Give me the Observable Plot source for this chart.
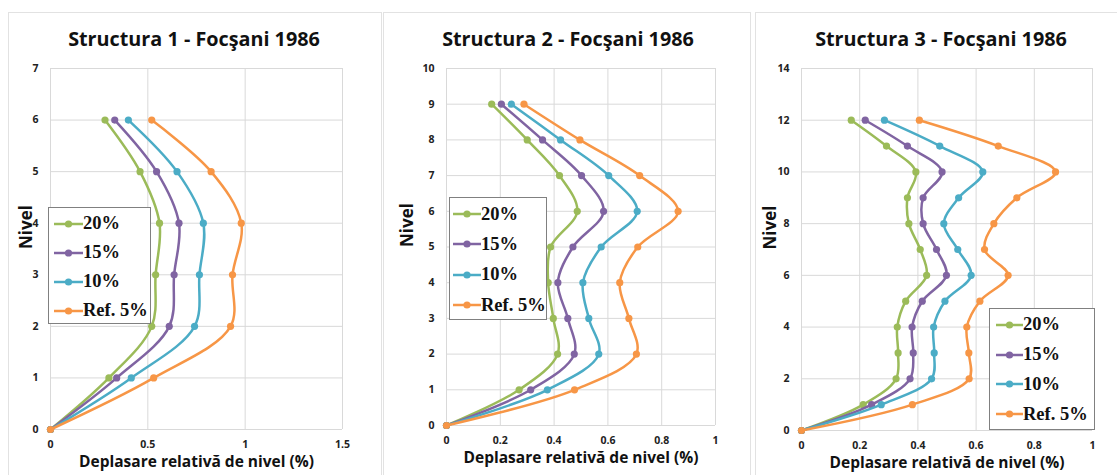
<!DOCTYPE html>
<html><head><meta charset="utf-8">
<script src="https://cdn.jsdelivr.net/npm/d3@7"></script>
<script src="https://cdn.jsdelivr.net/npm/@observablehq/plot@0.6"></script>
<style>
body{margin:0;background:#fff;width:1117px;height:475px;overflow:hidden;position:relative;font-family:"Open Sans",sans-serif;}
.panel{position:absolute;top:12px;height:480px;border:1px solid #e2e2e2;box-sizing:border-box;}
.plotbox{position:absolute;top:12px;}
.title{position:absolute;top:26px;font-weight:700;font-size:19.8px;line-height:26px;color:#111;white-space:nowrap;transform:translateX(-50%);}
.legend{position:absolute;border:1px solid #808080;background:#fff;font-family:"Liberation Serif","Times New Roman",serif;font-weight:700;font-size:18.5px;color:#111;box-sizing:border-box;}
.item{display:flex;align-items:center;white-space:nowrap;}
.item svg{flex:none;margin-right:0px;}
</style>
</head><body>
<script>
// ---- data ----
const seriesNames = ["20%", "15%", "10%", "Ref. 5%"];
const seriesColors = ["#9BBB59", "#8064A2", "#4BACC6", "#F79646"];

const titles = ["Structura 1 - Focşani 1986", "Structura 2 - Focşani 1986", "Structura 3 - Focşani 1986"];
const xLabel = "Deplasare relativă de nivel (%)";
const yLabel = "Nivel";

const levels1 = [0, 1, 2, 3, 4, 5, 6];
const s1_20  = [0, 0.30, 0.52, 0.54, 0.56, 0.46, 0.28];
const s1_15  = [0, 0.34, 0.61, 0.635, 0.66, 0.545, 0.33];
const s1_10  = [0, 0.415, 0.74, 0.765, 0.785, 0.65, 0.40];
const s1_ref = [0, 0.53, 0.925, 0.935, 0.98, 0.825, 0.52];
const xTicks1 = [0, 0.5, 1, 1.5];
const yTicks1 = [0, 1, 2, 3, 4, 5, 6, 7];

const levels2 = [0, 1, 2, 3, 4, 5, 6, 7, 8, 9];
const s2_20  = [0, 0.27, 0.413, 0.397, 0.378, 0.387, 0.486, 0.42, 0.30, 0.168];
const s2_15  = [0, 0.313, 0.475, 0.451, 0.414, 0.47, 0.584, 0.502, 0.357, 0.204];
const s2_10  = [0, 0.375, 0.566, 0.529, 0.507, 0.575, 0.709, 0.603, 0.424, 0.241];
const s2_ref = [0, 0.476, 0.706, 0.678, 0.644, 0.711, 0.861, 0.718, 0.496, 0.288];
const xTicks2 = [0, 0.2, 0.4, 0.6, 0.8, 1];
const yTicks2 = [0, 1, 2, 3, 4, 5, 6, 7, 8, 9, 10];

const levels3 = [0, 1, 2, 3, 4, 5, 6, 7, 8, 9, 10, 11, 12];
const s3_20  = [0, 0.212, 0.325, 0.332, 0.329, 0.358, 0.43, 0.408, 0.369, 0.364, 0.393, 0.292, 0.171];
const s3_15  = [0, 0.241, 0.373, 0.384, 0.38, 0.415, 0.498, 0.464, 0.418, 0.418, 0.483, 0.364, 0.219];
const s3_10  = [0, 0.274, 0.447, 0.456, 0.454, 0.493, 0.583, 0.537, 0.489, 0.54, 0.623, 0.475, 0.285];
const s3_ref = [0, 0.381, 0.576, 0.575, 0.568, 0.613, 0.71, 0.629, 0.661, 0.74, 0.873, 0.676, 0.405];
const xTicks3 = [0, 0.2, 0.4, 0.6, 0.8, 1];
const yTicks3 = [0, 2, 4, 6, 8, 10, 12, 14];

// ---- layout ----
const panels = [
  {title: titles[0], levels: levels1, series: [s1_20, s1_15, s1_10, s1_ref], xTicks: xTicks1, yTicks: yTicks1,
   box: {left: 8, width: 374}, svg: {left: 8, width: 374, height: 463, mt: 56, mb: 46, ml: 42, mr: 40},
   titleX: 194, yLabelDx: -24,
   legend: {left: 48, top: 207, width: 103, height: 117, pad: 1, row: 29, lineW: 29, padL: 5}},
  {title: titles[1], levels: levels2, series: [s2_20, s2_15, s2_10, s2_ref], xTicks: xTicks2, yTicks: yTicks2,
   box: {left: 383, width: 368}, svg: {left: 383, width: 368, height: 463, mt: 56, mb: 50, ml: 63, mr: 36},
   titleX: 568, yLabelDx: -39,
   legend: {left: 449, top: 197, width: 98, height: 123, pad: 1, row: 30.3, lineW: 28, padL: 3}},
  {title: titles[2], levels: levels3, series: [s3_20, s3_15, s3_10, s3_ref], xTicks: xTicks3, yTicks: yTicks3,
   box: {left: 755, width: 372}, svg: {left: 755, width: 362, height: 463, mt: 56, mb: 45, ml: 46, mr: 25},
   titleX: 941, yLabelDx: -31,
   legend: {left: 989, top: 308, width: 106, height: 122, pad: 1, row: 29.8, lineW: 27, padL: 6}}
];

for (const p of panels) {
  const box = document.createElement("div");
  box.className = "panel";
  box.style.left = p.box.left + "px";
  box.style.width = p.box.width + "px";
  document.body.appendChild(box);

  const rows = [];
  p.series.forEach((vals, si) => vals.forEach((v, i) => rows.push({series: seriesNames[si], level: p.levels[i], x: v})));

  const seriesMarks = [];
  seriesNames.forEach(name => {
    const d = rows.filter(r => r.series === name);
    seriesMarks.push(Plot.line(d, {x: "x", y: "level", stroke: "series", strokeWidth: 2.5, curve: "catmull-rom"}));
    seriesMarks.push(Plot.dot(d, {x: "x", y: "level", fill: "series", r: 3.6}));
  });

  const xmax = p.xTicks[p.xTicks.length - 1], ymax = p.yTicks[p.yTicks.length - 1];
  const chart = Plot.plot({
    width: p.svg.width, height: p.svg.height,
    marginTop: p.svg.mt, marginBottom: p.svg.mb, marginLeft: p.svg.ml, marginRight: p.svg.mr,
    style: {fontFamily: "'Open Sans', sans-serif", fontWeight: 700, fontSize: "10.5px", color: "#222", background: "transparent", overflow: "visible"},
    x: {domain: [0, xmax]},
    y: {domain: [0, ymax]},
    color: {domain: seriesNames, range: seriesColors},
    marks: [
      Plot.gridX(p.xTicks, {stroke: "#d9d9d9", strokeOpacity: 1}),
      Plot.gridY(p.yTicks, {stroke: "#d9d9d9", strokeOpacity: 1}),
      Plot.axisX(p.xTicks, {tickSize: 0, tickPadding: 11, tickFormat: d => String(d), label: null}),
      Plot.axisY(p.yTicks, {tickSize: 0, tickPadding: 12, tickFormat: d => String(d), label: null}),
      Plot.text([xLabel], {frameAnchor: "bottom", dy: 37, text: d => d, fontSize: 15.5, fontWeight: 700, fill: "#111"}),
      Plot.text([yLabel], {frameAnchor: "left", dx: p.yLabelDx, rotate: -90, text: d => d, fontSize: 17, fontWeight: 700, fill: "#111"}),
      ...seriesMarks
    ]
  });
  const holder = document.createElement("div");
  holder.className = "plotbox";
  holder.style.left = p.svg.left + "px";
  holder.appendChild(chart);
  document.body.appendChild(holder);

  const t = document.createElement("div");
  t.className = "title";
  t.style.left = p.titleX + "px";
  t.textContent = p.title;
  document.body.appendChild(t);

  const lg = document.createElement("div");
  lg.className = "legend";
  Object.assign(lg.style, {left: p.legend.left + "px", top: p.legend.top + "px", width: p.legend.width + "px", height: p.legend.height + "px", paddingTop: p.legend.pad + "px", paddingLeft: p.legend.padL + "px"});
  seriesNames.forEach((name, i) => {
    const it = document.createElement("div");
    it.className = "item";
    it.style.height = p.legend.row + "px";
    const w = p.legend.lineW;
    it.innerHTML = `<svg width="${w}" height="10"><line x1="0" x2="${w}" y1="5" y2="5" stroke="${seriesColors[i]}" stroke-width="2.5"/><circle cx="${w/2}" cy="5" r="3.6" fill="${seriesColors[i]}"/></svg><span>${name}</span>`;
    lg.appendChild(it);
  });
  document.body.appendChild(lg);
}
</script>
</body></html>
